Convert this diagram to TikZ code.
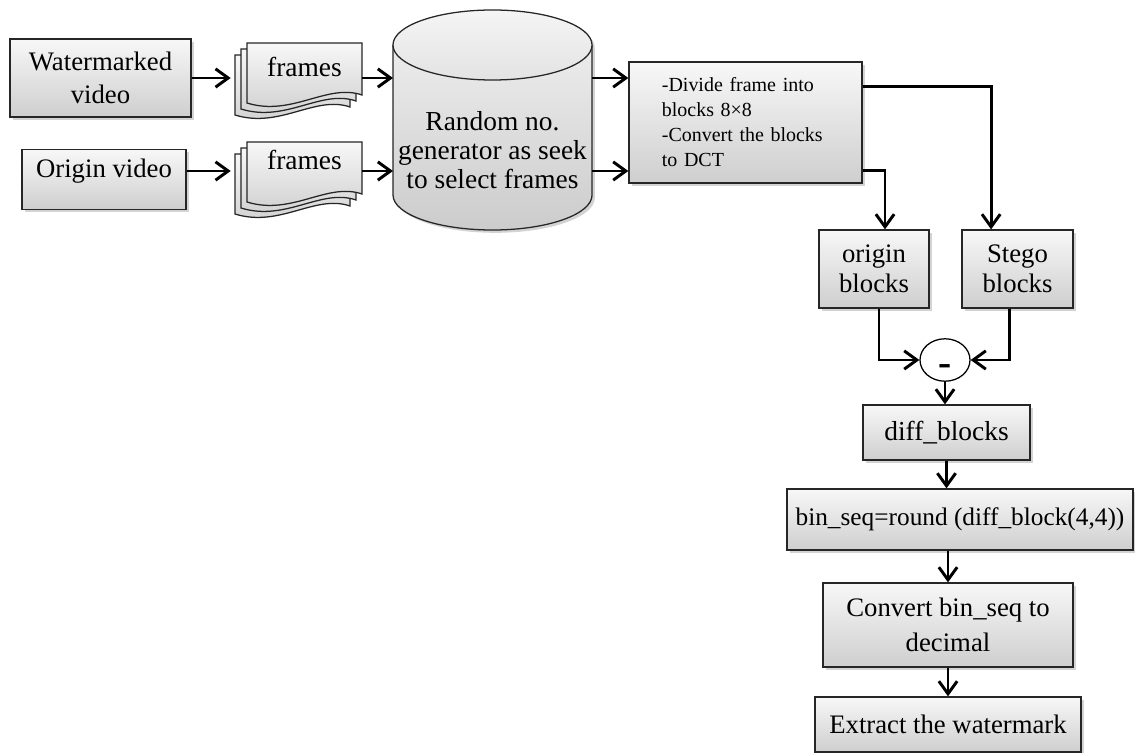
\documentclass[tikz,border=0pt]{standalone}
\usepackage{fontspec}
\setmainfont{Liberation Serif}
\usetikzlibrary{arrows.meta,shadows,shapes.geometric}
\tikzset{
	box/.style={draw=black!85, line width=0.9pt, top color=gray!6, bottom color=gray!38, align=center,
		drop shadow={shadow xshift=2pt, shadow yshift=-2pt, opacity=0.35}},
	page/.style={draw=black!85, line width=0.9pt, top color=gray!6, bottom color=gray!38},
	pagetxt/.style={minimum width=2.875cm, inner sep=0pt, text height=0.5cm, text depth=0.55cm},
	arr/.style={-{Straight Barb[length=9pt,width=13pt]}, line width=2.1pt},
}
\def\framestack(#1,#2){%
	\foreach \d in {12,6,0}
		\draw[page] ({#1-\d},{#2+\d}) -- ++(115,0) -- ++(0,52)
			.. controls +(-35,-12) and +(45,14) .. ++(-115,8) -- cycle;}

\begin{document}
\begin{tikzpicture}[x=0.025cm, y=-0.025cm, font=\fontsize{19}{23}\selectfont]
	%%%%% START %%%%%
	\useasboundingbox (0,0) rectangle (1135,753);
	
	\node[box, minimum width=4.52cm, minimum height=1.95cm] (wvid) at (100.5,78) {Watermarked\\video};
	\node[box, minimum width=4.1cm, minimum height=1.5cm, text height=0.5cm, text depth=0.62cm] (ovid) at (104,179.5) {Origin video};
	
	\framestack(247,43)
	\node[pagetxt, font=\fontsize{19.5}{23}\selectfont] (frmA) at (304.5,78) {frames};
	\framestack(247,142)
	\node[pagetxt, font=\fontsize{19.5}{23}\selectfont] (frmB) at (304.5,171) {frames};
	\coordinate (backA) at ([xshift=-0.4cm]frmA.west);
	\coordinate (backB) at ([xshift=-0.4cm]frmB.west);
	
	% cylinder
	\path[top color=gray!10, bottom color=gray!40, drop shadow={shadow xshift=2pt, shadow yshift=-2pt, opacity=0.35}]
		(393,45) -- (393,195) arc[start angle=180, end angle=360, x radius=2.4875cm, y radius=0.875cm]
		-- (592,45) arc[start angle=0, end angle=180, x radius=2.4875cm, y radius=0.875cm] -- cycle;
	\draw[line width=0.9pt, draw=black!85]
		(393,45) -- (393,195) arc[start angle=180, end angle=360, x radius=2.4875cm, y radius=0.875cm]
		-- (592,45);
	\draw[line width=0.9pt, draw=black!85, top color=gray!8, bottom color=gray!22] (492.5,45) ellipse [x radius=2.4875cm, y radius=0.875cm];
	\node[align=center, font=\fontsize{19.5}{20.5}\selectfont] (rng) at (492.5,150) {Random no.\\generator as seek\\to select frames};
	\coordinate (cylW) at (393,120);
	\coordinate (cylE) at (592,120);
	
	\node[box, minimum width=5.825cm, minimum height=3.025cm, text width=4.18cm, align=left,
		font=\fontsize{14.2}{17.8}\selectfont] (dct) at (745.5,122.5) {-Divide frame into\\blocks 8×8\\-Convert the blocks\\to DCT};
	
	\node[box, minimum width=2.75cm, minimum height=1.95cm, font=\fontsize{19}{21}\selectfont] (orig) at (874,269) {origin\\blocks};
	\node[box, minimum width=2.775cm, minimum height=1.95cm, font=\fontsize{19}{21}\selectfont] (stego) at (1017.5,269) {Stego\\blocks};
	\node[draw, ellipse, line width=0.9pt, fill=white, minimum width=1.25cm, minimum height=1.05cm, inner sep=0pt,
		text height=0.75cm, text depth=0cm, font=\fontsize{28}{28}\bfseries] (sub) at (945,360) {-};
	\node[box, minimum width=4.175cm, minimum height=1.375cm, font=\fontsize{19.5}{23}\selectfont] (diff) at (946.5,432.5) {diff\_blocks};
	\node[box, minimum width=8.65cm, minimum height=1.525cm, font=\fontsize{18}{22}\selectfont] (bin) at (960,519.5) {bin\_seq=round (diff\_block(4,4))};
	\node[box, minimum width=6.25cm, minimum height=2.1cm, font=\fontsize{19}{25}\selectfont] (conv) at (948,625) {Convert bin\_seq to\\decimal};
	\node[box, minimum width=6.65cm, minimum height=1.375cm] (ext) at (948,724.5) {Extract the watermark};
	
	% connectors
	\draw[arr] (wvid.east |- frmA) -- (backA);
	\draw[arr] (ovid.east |- frmB) -- (backB);
	\draw[arr] (frmA.east) -- (frmA.east -| cylW);
	\draw[arr] (frmB.east) -- (frmB.east -| cylW);
	\draw[arr] (cylE |- frmA) -- (dct.west |- frmA);
	\draw[arr] (cylE |- frmB) -- (dct.west |- frmB);
	
	\draw[arr] ([yshift=0.9cm]dct.east) -| ([xshift=-0.66cm]stego.north);
	\draw[arr] ([yshift=-1.2cm]dct.east) -| ([xshift=0.275cm]orig.north);
	\draw[arr] ([xshift=0.125cm]orig.south) |- (sub.west);
	\draw[arr] ([xshift=-0.19cm]stego.south) |- (sub.east);
	\draw[arr] (sub.south) -- (sub.south |- diff.north);
	\draw[arr] (diff.south) -- (diff.south |- bin.north);
	\draw[arr] (conv.north |- bin.south) -- (conv.north);
	\draw[arr] (conv.south) -- (ext.north);
	
	%%%%% END %%%%%
\end{tikzpicture}
\end{document}
